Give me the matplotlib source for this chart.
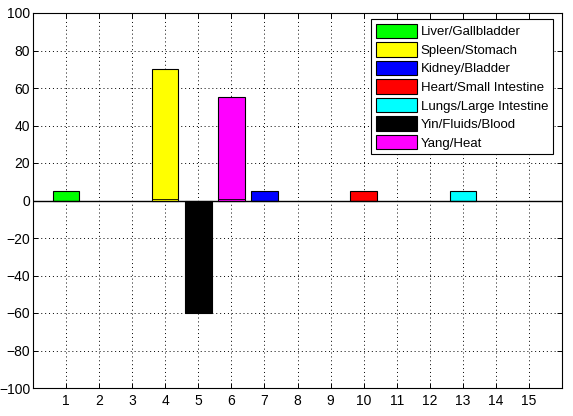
import matplotlib
matplotlib.use('Agg')
import matplotlib.pyplot as plt

# organ systems and their scores
labels = ["Liver/Gallbladder", "Spleen/Stomach", "Kidney/Bladder",
          "Heart/Small Intestine", "Lungs/Large Intestine",
          "Yin/Fluids/Blood", "Yang/Heat"]
positions = [1, 4, 7, 10, 13, 5, 6]
values = [5, 70, 5, 5, 5, -60, 55]
inner_values = [0, 1, 0, 0, 0, 0, 1]
colors = ["#00ff00", "#ffff00", "#0000ff", "#ff0000", "#00ffff",
          "#000000", "#ff00ff"]
xticks = list(range(1, 16))
yticks = list(range(-100, 101, 20))

plt.rcParams['font.family'] = ['Liberation Sans', 'DejaVu Sans']

fig = plt.figure(figsize=(5.73, 4.16), dpi=100)
ax = fig.add_axes([33 / 573, 28 / 416, 529 / 573, 375 / 416])

handles = []
for pos, val, inner, col, lab in zip(positions, values, inner_values, colors, labels):
    b = ax.bar(pos, val, width=0.8, color=col, edgecolor='black',
               linewidth=0.8, label=lab, zorder=2)
    handles.append(b)
    if inner:
        ax.bar(pos, inner, width=0.8, color=col, edgecolor='black',
               linewidth=0.6, zorder=2)

ax.axhline(0, color='black', linewidth=1.0, zorder=3)

ax.set_xlim(0, 16)
ax.set_ylim(-100, 100)
ax.set_xticks(xticks)
ax.set_yticks(yticks)
ax.grid(True, color='black', linestyle=(0, (1, 3)), linewidth=0.7, zorder=1)
ax.set_axisbelow(True)
ax.tick_params(direction='in', length=3.8, width=0.7, top=True, right=True,
               labelsize=10)
ax.tick_params(axis='x', pad=4)
ax.tick_params(axis='y', pad=2)
for s in ax.spines.values():
    s.set_linewidth(0.8)

leg = ax.legend(handles=handles, loc='upper right',
                bbox_to_anchor=(553 / 573, (416 - 19) / 416),
                bbox_transform=fig.transFigure,
                fontsize=9.5, fancybox=False, framealpha=1,
                edgecolor='black', handlelength=3.1, handleheight=1.3,
                handletextpad=0.3, labelspacing=0.3, borderpad=0.35,
                borderaxespad=0)
leg.get_frame().set_linewidth(0.8)

fig.savefig('out.png', dpi=100)
